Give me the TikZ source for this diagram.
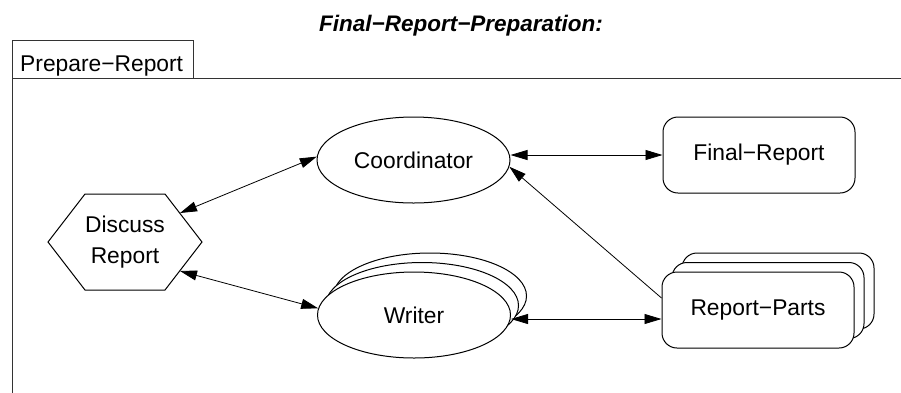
\documentclass[tikz,border=0pt]{standalone}
\usepackage{fontspec}
\setmainfont{Liberation Sans}
\usetikzlibrary{shapes.geometric,arrows.meta}
\tikzset{
  lbl/.style={font=\fontsize{22.8}{31}\selectfont, text=black},
  ell/.style={ellipse, draw, fill=white, line width=1pt, minimum width=193pt, minimum height=86pt, inner sep=0pt, lbl},
  rbox/.style={rectangle, draw, fill=white, line width=1pt, rounded corners=15pt, minimum width=192pt, minimum height=76pt, inner sep=0pt, lbl},
  conn/.style={line width=0.8pt, {Triangle[length=17pt,width=10pt]}-{Triangle[length=17pt,width=10pt]}},
  conn1/.style={line width=0.8pt, -{Triangle[length=17pt,width=10pt]}},
}
\begin{document}
\begin{tikzpicture}[x=1pt,y=-1pt]
\useasboundingbox (0,0) rectangle (901,392);
\clip (0,0) rectangle (901,392);
% title
\node[font=\fontsize{22.5}{26}\selectfont\bfseries\itshape, anchor=base, inner sep=0pt] (title) at (461,31) {Final−Report−Preparation:};
% frame
\draw[line width=1pt, draw=black!80] (12,78) rectangle (920,420);
\draw[line width=1pt, draw=black!80] (12,78) -- (12,40) -- (193,40) -- (193,78);
\node[lbl, anchor=base west, inner sep=0pt] (tab) at (20,71) {Prepare−Report};
% hexagon
\draw[line width=1pt, fill=white] (48,242) -- (85,194) -- (165,194) -- (202,242) -- (165,290) -- (85,290) -- cycle;
\node[lbl, align=center, inner sep=0pt] (discuss) at (125,242) {Discuss\\Report};
\coordinate (dNE) at (180,213);
\coordinate (dSE) at (180,271);
% coordinator
\node[ell] (coord) at (413.5,160) {Coordinator};
% writer stack
\node[ell] (writer3) at (430,296) {};
\node[ell] (writer2) at (422,305.5) {};
\node[ell] (writer) at (414,315) {Writer};
% final report
\node[rbox] (final) at (759,155) {Final−Report};
% report parts stack
\node[rbox] (parts3) at (778,291) {};
\node[rbox] (parts2) at (768,300.5) {};
\node[rbox] (parts) at (758,310) {Report−Parts};
% connectors
\draw[conn] (dNE) -- (coord.178);
\draw[conn] (dSE) -- (writer.176);
\draw[conn] (coord.east |- final.west) -- (final.west);
\draw[conn1] ([yshift=12pt]parts.west) -- (coord.-4);
\draw[conn] ([yshift=-9pt]parts.west -| writer.east) -- ([yshift=-9pt]parts.west);
\end{tikzpicture}
\end{document}
